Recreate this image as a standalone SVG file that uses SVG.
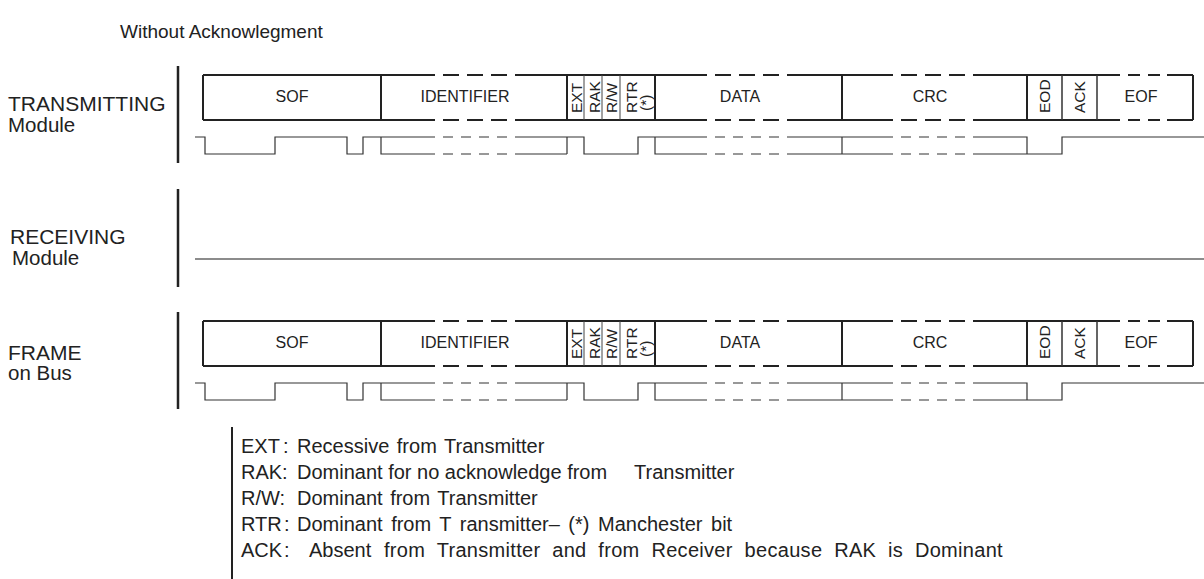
<svg xmlns="http://www.w3.org/2000/svg" width="1204" height="579" viewBox="0 0 1204 579">
<style>
text{font-family:"Liberation Sans",Arial,sans-serif;fill:#222}
.title{font-size:19px}
.side{font-size:21px}
.side2{font-size:20.5px}
.field{font-size:16px;text-anchor:middle}
.vlab{font-size:15.5px}
.leg{font-size:20px}
.edge{stroke:#222;stroke-width:2;fill:none}
.edash{stroke:#222;stroke-width:2;fill:none;stroke-dasharray:16 8}
.edash2{stroke:#222;stroke-width:2;fill:none;stroke-dasharray:12 8}
.thin{stroke:#444;stroke-width:1;fill:none}
.mid{stroke:#333;stroke-width:1.5;fill:none}
.wave{stroke:#333;stroke-width:1.2;fill:none}
.wdash{stroke:#333;stroke-width:1.2;fill:none;stroke-dasharray:10 8}
.bar{stroke:#222;stroke-width:2.5;fill:none}
.rx{stroke:#666;stroke-width:1.5;fill:none}
</style>
<rect width="1204" height="579" fill="#fff"/>
<g id="title"><text class="title" x="120" y="38">Without Acknowlegment</text></g>

<g id="label-transmitting">
<text class="side" x="8" y="111">TRANSMITTING</text>
<text class="side2" x="8" y="132">Module</text>
</g>
<g id="label-receiving">
<text class="side" x="10" y="244">RECEIVING</text>
<text class="side2" x="12" y="265">Module</text>
</g>
<g id="label-frame">
<text class="side" x="8" y="360">FRAME</text>
<text class="side2" x="8" y="380">on Bus</text>
</g>

<g id="frame-transmitting">
<path class="edge" d="M203 75H435M515 75H707M787 75H893M973 75H1120M1167 75H1193M203 120H435M515 120H707M787 120H893M973 120H1120M1167 120H1193"/>
<path class="edash" d="M443 75H507M715 75H779M901 75H965M443 120H507M715 120H779M901 120H965"/>
<path class="edash2" d="M1128 75H1160M1128 120H1160"/>
<path class="edge" d="M203 75V120M381 75V120M567 75V120M655 75V120M842 75V120M1027 75V120M1193 75V120"/>
<path class="thin" d="M584 75V120M602 75V120M620 75V120"/>
<path class="mid" d="M1062 75V120M1097 75V120"/>
<text class="field" x="292" y="102">SOF</text>
<text class="field" x="465" y="102">IDENTIFIER</text>
<text class="field" x="740" y="102">DATA</text>
<text class="field" x="930" y="102">CRC</text>
<text class="field" x="1141" y="102">EOF</text>
<text class="vlab" transform="translate(582 113) rotate(-90)">EXT</text>
<text class="vlab" transform="translate(600 113) rotate(-90)">RAK</text>
<text class="vlab" transform="translate(617 113) rotate(-90)">R/W</text>
<text class="vlab" transform="translate(637 113) rotate(-90)">RTR</text>
<text class="vlab" transform="translate(651 111) rotate(-90)">(*)</text>
<text class="vlab" transform="translate(1050 113) rotate(-90)">EOD</text>
<text class="vlab" transform="translate(1085 113) rotate(-90)">ACK</text>
</g>

<g id="frame-bus" transform="translate(0 246)">
<path class="edge" d="M203 75H435M515 75H707M787 75H893M973 75H1120M1167 75H1193M203 120H435M515 120H707M787 120H893M973 120H1120M1167 120H1193"/>
<path class="edash" d="M443 75H507M715 75H779M901 75H965M443 120H507M715 120H779M901 120H965"/>
<path class="edash2" d="M1128 75H1160M1128 120H1160"/>
<path class="edge" d="M203 75V120M381 75V120M567 75V120M655 75V120M842 75V120M1027 75V120M1193 75V120"/>
<path class="thin" d="M584 75V120M602 75V120M620 75V120"/>
<path class="mid" d="M1062 75V120M1097 75V120"/>
<text class="field" x="292" y="102">SOF</text>
<text class="field" x="465" y="102">IDENTIFIER</text>
<text class="field" x="740" y="102">DATA</text>
<text class="field" x="930" y="102">CRC</text>
<text class="field" x="1141" y="102">EOF</text>
<text class="vlab" transform="translate(582 113) rotate(-90)">EXT</text>
<text class="vlab" transform="translate(600 113) rotate(-90)">RAK</text>
<text class="vlab" transform="translate(617 113) rotate(-90)">R/W</text>
<text class="vlab" transform="translate(637 113) rotate(-90)">RTR</text>
<text class="vlab" transform="translate(651 111) rotate(-90)">(*)</text>
<text class="vlab" transform="translate(1050 113) rotate(-90)">EOD</text>
<text class="vlab" transform="translate(1085 113) rotate(-90)">ACK</text>
</g>

<g id="connectors">
<g id="wave-transmitting">
<path class="wave" d="M195 137H205V154H275V137H347V154H363V137H435M381 137V154H435M515 137H584V154H638V137H707M515 154H567M567 137V154M655 137V154H707M787 137H893M787 154H893M842 137V154M973 137H1027V154M973 154H1062V137H1204"/>
<path class="wdash" d="M443 137H507M443 154H507M715 137H779M715 154H779M901 137H965M901 154H965"/>
</g>
<g id="wave-bus" transform="translate(0 246)">
<path class="wave" d="M195 137H205V154H275V137H347V154H363V137H435M381 137V154H435M515 137H584V154H638V137H707M515 154H567M567 137V154M655 137V154H707M787 137H893M787 154H893M842 137V154M973 137H1027V154M973 154H1062V137H1204"/>
<path class="wdash" d="M443 137H507M443 154H507M715 137H779M715 154H779M901 137H965M901 154H965"/>
</g>
<path id="wave-receiving" class="rx" d="M195 259H1204"/>
<path class="bar" d="M178 66V163M178 189V287M178 312V409"/>
</g>

<g id="legend">
<path class="bar" d="M232 427V579" style="stroke-width:2"/>
<text class="leg" x="241" y="453">EXT<tspan x="283">:</tspan><tspan x="297" word-spacing="2">Recessive from Transmitter</tspan></text>
<text class="leg" x="241" y="479">RAK:<tspan x="297">Dominant for no acknowledge from</tspan><tspan x="634">Transmitter</tspan></text>
<text class="leg" x="241" y="505">R/W:<tspan x="297" word-spacing="2">Dominant from Transmitter</tspan></text>
<text class="leg" x="241" y="531">RTR<tspan x="284">:</tspan><tspan x="297" word-spacing="3">Dominant from T ransmitter– (*) Manchester bit</tspan></text>
<text class="leg" x="241" y="557">ACK<tspan x="284">:</tspan><tspan x="309">Absent</tspan><tspan x="384" letter-spacing="0.3" word-spacing="6">from Transmitter and from Receiver because RAK is Dominant</tspan></text>
</g>
</svg>
